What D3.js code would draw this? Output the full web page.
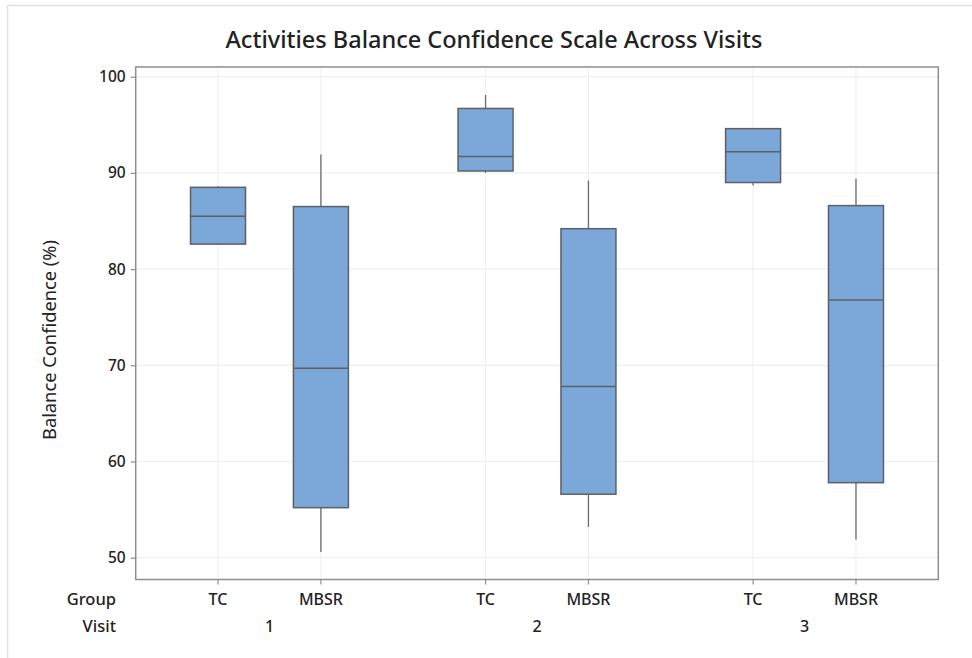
<!DOCTYPE html>
<html>
<head>
<meta charset="utf-8">
<script src="https://cdn.jsdelivr.net/npm/d3@7"></script>
<style>
  html, body { margin: 0; padding: 0; background: #fff; }
  svg { display: block; }
  text { font-family: "Noto Sans", "Open Sans", sans-serif; fill: #222; }
</style>
</head>
<body>
<svg id="chart" width="972" height="658"></svg>
<script>
// ---- data ----
const visits = ["1", "2", "3"];
const groups = ["TC", "MBSR"];
// per box: [whiskerLow, Q1, median, Q3, whiskerHigh], order: visit1 TC, visit1 MBSR, visit2 TC, ...
const boxVisit = ["1", "1", "2", "2", "3", "3"];
const boxGroup = ["TC", "MBSR", "TC", "MBSR", "TC", "MBSR"];
const whiskerLow  = [82.6, 50.6, 90.0, 53.2, 88.7, 51.9];
const q1          = [82.6, 55.2, 90.2, 56.6, 89.0, 57.8];
const medians     = [85.5, 69.7, 91.7, 67.8, 92.2, 76.8];
const q3          = [88.5, 86.5, 96.7, 84.2, 94.6, 86.6];
const whiskerHigh = [88.6, 91.9, 98.1, 89.2, 94.6, 89.4];
const yTicks = [50, 60, 70, 80, 90, 100];

const title = "Activities Balance Confidence Scale Across Visits";
const yLabel = "Balance Confidence (%)";

// ---- layout ----
const svg = d3.select("#chart");
const L = 135.7, R = 938.3, T = 67, B = 579.5;

const xVisit = d3.scaleBand().domain(visits).range([L, R]).padding(0);
const xGroup = d3.scalePoint().domain(groups).range([0, xVisit.bandwidth()]).padding(0.8);
const y = d3.scaleLinear().domain([50, 100]).range([557.7, 76.7]);
const boxW = 55;
const cx = i => xVisit(boxVisit[i]) + xGroup(boxGroup[i]);

// outer border
svg.append("rect").attr("x", 7.5).attr("y", 5.5).attr("width", 980).attr("height", 660)
  .attr("fill", "none").attr("stroke", "#e2e2e2").attr("stroke-width", 1.5);

// gridlines
const grid = svg.append("g");
grid.selectAll("line.h").data(yTicks).join("line")
  .attr("x1", L).attr("x2", R).attr("y1", d => y(d)).attr("y2", d => y(d))
  .attr("stroke", "#efefef").attr("stroke-width", 1.2);
const idx = d3.range(boxVisit.length);
grid.selectAll("line.v").data(idx).join("line")
  .attr("x1", cx).attr("x2", cx).attr("y1", T).attr("y2", B)
  .attr("stroke", "#efefef").attr("stroke-width", 1.2);

// boxes
const boxes = svg.append("g").selectAll("g").data(idx).join("g");
boxes.append("line")
  .attr("x1", cx).attr("x2", cx)
  .attr("y1", i => y(whiskerHigh[i])).attr("y2", i => y(q3[i]))
  .attr("stroke", "#6a6a6a").attr("stroke-width", 1.3);
boxes.append("line")
  .attr("x1", cx).attr("x2", cx)
  .attr("y1", i => y(q1[i])).attr("y2", i => y(whiskerLow[i]))
  .attr("stroke", "#6a6a6a").attr("stroke-width", 1.3);
boxes.append("rect")
  .attr("x", i => cx(i) - boxW / 2).attr("width", boxW)
  .attr("y", i => y(q3[i])).attr("height", i => y(q1[i]) - y(q3[i]))
  .attr("fill", "#7ba7d9").attr("stroke", "#5e6066").attr("stroke-width", 1.5);
boxes.append("line")
  .attr("x1", i => cx(i) - boxW / 2).attr("x2", i => cx(i) + boxW / 2)
  .attr("y1", i => y(medians[i])).attr("y2", i => y(medians[i]))
  .attr("stroke", "#5e6066").attr("stroke-width", 1.5);

// frame
svg.append("rect").attr("x", L).attr("y", T).attr("width", R - L).attr("height", B - T)
  .attr("fill", "none").attr("stroke", "#8e8e8e").attr("stroke-width", 1.5);

// y axis
const yAxis = d3.axisLeft(y).tickValues(yTicks).tickSize(5).tickPadding(5);
const ya = svg.append("g").attr("transform", `translate(${L},0)`).call(yAxis);
ya.select(".domain").remove();
ya.selectAll(".tick line").attr("stroke", "#8e8e8e").attr("stroke-width", 1.2);
ya.selectAll(".tick text").attr("font-size", 15.5).attr("font-weight", 500)
  .style("font-family", "'Noto Sans', sans-serif").attr("fill", "#222");

// x ticks (group positions)
svg.append("g").selectAll("line").data(idx).join("line")
  .attr("x1", cx).attr("x2", cx).attr("y1", B).attr("y2", B + 5)
  .attr("stroke", "#8e8e8e").attr("stroke-width", 1.2);

// group labels
svg.append("g").selectAll("text").data(idx).join("text")
  .attr("x", cx).attr("y", 605).attr("text-anchor", "middle")
  .attr("font-size", 16).attr("font-weight", 500).text(i => boxGroup[i]);
// visit labels
svg.append("g").selectAll("text").data(visits).join("text")
  .attr("x", d => xVisit(d) + xVisit.bandwidth() / 2).attr("y", 632).attr("text-anchor", "middle")
  .attr("font-size", 16).attr("font-weight", 500).text(d => d);

svg.append("text").attr("x", 116).attr("y", 605).attr("text-anchor", "end")
  .attr("font-size", 16.5).attr("font-weight", 500).text("Group");
svg.append("text").attr("x", 116).attr("y", 632).attr("text-anchor", "end")
  .attr("font-size", 16.5).attr("font-weight", 500).text("Visit");

// title
svg.append("text").attr("x", 494).attr("y", 48).attr("text-anchor", "middle")
  .attr("font-size", 23.5).attr("font-weight", 500).attr("fill", "#333").text(title);

// y label
svg.append("text").attr("transform", `translate(56,340) rotate(-90)`).attr("text-anchor", "middle")
  .attr("font-size", 18.3).attr("fill", "#333").text(yLabel);
</script>
</body>
</html>
